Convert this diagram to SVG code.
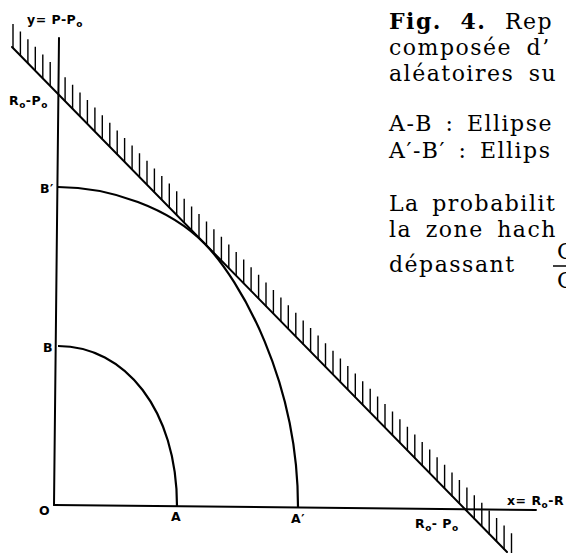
<svg xmlns="http://www.w3.org/2000/svg" width="566" height="553" viewBox="0 0 566 553">
<style>
.ax{stroke:#000;stroke-width:2;fill:none;stroke-linecap:round}
.arc{stroke:#000;stroke-width:2.2;fill:none}
.tk{stroke:#000;stroke-width:1.4}
.lb{font-family:"DejaVu Sans","Liberation Sans",sans-serif;font-weight:bold;font-size:12.5px;fill:#000;letter-spacing:0.5px}
.sb{font-size:9px}
.tx{font-family:"DejaVu Serif","Liberation Serif",serif;font-size:22px;fill:#000;letter-spacing:1.5px}
</style>
<rect width="566" height="553" fill="#fff"/>
<g id="connectors">
<line class="ax" x1="59" y1="38" x2="54" y2="505"/>
<line class="ax" x1="54" y1="505" x2="536" y2="510"/>
<line class="ax" x1="12" y1="47" x2="507" y2="552"/>
</g>
<g id="hatching">
<path class="tk" d="M13,48v-24 M20.4,55.6v-24 M27.9,63.2v-24 M35.3,70.8v-24 M42.8,78.4v-24 M50.2,86v-24 M65.1,101.2v-24 M72.6,108.8v-24 M80,116.4v-24 M87.4,124v-24 M94.9,131.6v-24 M102.3,139.2v-24 M109.8,146.8v-24 M117.2,154.4v-24 M124.6,162v-24 M132.1,169.6v-24 M139.5,177.2v-24 M147,184.8v-24 M154.4,192.4v-24 M161.8,200v-24 M169.3,207.6v-24 M176.7,215.2v-24 M184.2,222.8v-24 M191.6,230.4v-24 M199,238v-24 M206.5,245.6v-24 M213.9,253.2v-24 M221.4,260.8v-24 M228.8,268.4v-24 M236.2,276v-24 M243.7,283.6v-24 M251.1,291.2v-24 M258.6,298.8v-24 M266,306.4v-24 M273.4,314v-24 M280.9,321.6v-24 M288.3,329.2v-24 M295.8,336.8v-24 M303.2,344.4v-24 M310.6,352v-24 M318.1,359.6v-24 M325.5,367.2v-24 M333,374.8v-24 M340.4,382.4v-24 M347.8,390v-24 M355.3,397.6v-24 M362.7,405.2v-24 M370.2,412.8v-24 M377.6,420.4v-24 M385,428v-24 M392.5,435.6v-24 M399.9,443.2v-24 M407.4,450.8v-24 M414.8,458.4v-24 M422.2,466v-24 M429.7,473.6v-24 M437.1,481.2v-24 M444.6,488.8v-24 M452,496.4v-24 M459.4,504v-24 M466.9,511.6v-24 M474.3,519.2v-24 M481.8,526.8v-24 M489.2,534.4v-24 M496.6,542v-24 M504.1,549.6v-24 M511.5,557.2v-24"/>
</g>
<g id="ellipse-AB">
<path class="arc" d="M58,346 C125,346 177,410 177,506"/>
</g>
<g id="ellipse-A1B1">
<path class="arc" d="M58,187 C110,187 170,208 205,244 C240,280 298,380 298,507"/>
</g>
<g id="labels">
<text class="lb" x="27" y="24">y= P-P<tspan class="sb" dy="3">o</tspan></text>
<text class="lb" x="9" y="105">R<tspan class="sb" dy="3">o</tspan><tspan dy="-3">-P</tspan><tspan class="sb" dy="3">o</tspan></text>
<text class="lb" x="40" y="193">B′</text>
<text class="lb" x="43" y="352">B</text>
<text class="lb" x="39" y="515">O</text>
<text class="lb" x="171" y="521">A</text>
<text class="lb" x="291" y="523">A′</text>
<text class="lb" x="415" y="528">R<tspan class="sb" dy="3">o</tspan><tspan dy="-3">- P</tspan><tspan class="sb" dy="3">o</tspan></text>
<text class="lb" x="507" y="505">x= R<tspan class="sb" dy="3">o</tspan><tspan dy="-3">-R</tspan></text>
</g>
<g id="caption">
<text class="tx" x="389" y="29" word-spacing="10"><tspan font-weight="bold">Fig.</tspan> <tspan font-weight="bold">4.</tspan> Rep</text>
<text class="tx" x="389" y="55" word-spacing="6">composée d’</text>
<text class="tx" x="389" y="81" word-spacing="6">aléatoires su</text>
<text class="tx" x="389" y="131" word-spacing="4">A-B : Ellipse</text>
<text class="tx" x="389" y="158" word-spacing="4">A′-B′ : Ellips</text>
<text class="tx" x="389" y="211" word-spacing="4">La probabilit</text>
<text class="tx" x="389" y="237" word-spacing="5">la zone hach</text>
<text class="tx" x="389" y="272">dépassant</text>
<line x1="553" y1="266" x2="566" y2="266" stroke="#000" stroke-width="1.5"/>
<text class="tx" x="557" y="259" font-size="18">C</text>
<text class="tx" x="557" y="288" font-size="18">C</text>
</g>
</svg>
